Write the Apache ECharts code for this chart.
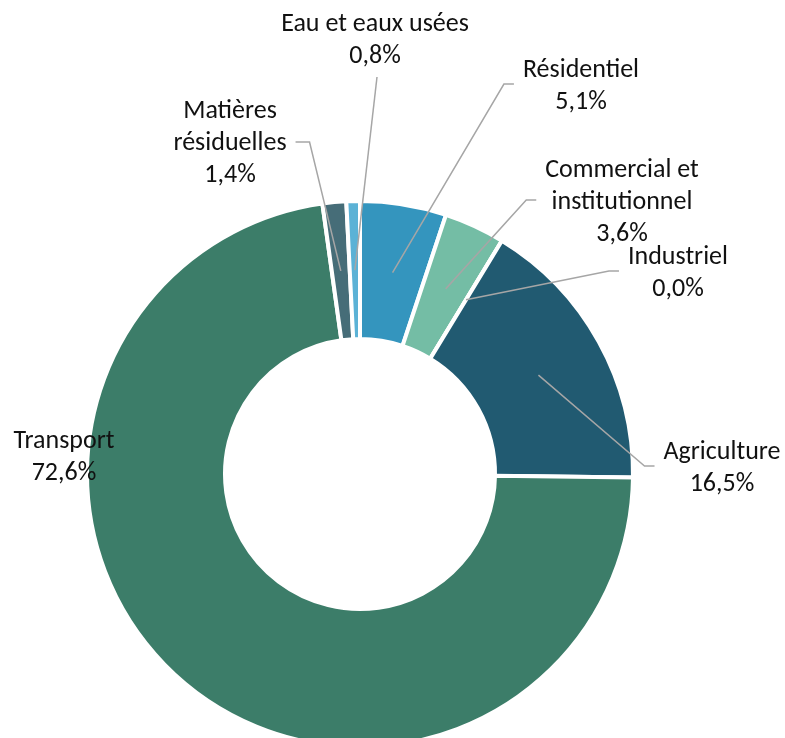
<!DOCTYPE html>
<html><head><meta charset="utf-8">
<script src="https://cdn.jsdelivr.net/npm/echarts@6/dist/echarts.min.js"></script>
<style>html,body{margin:0;padding:0;background:#fff}#c{width:785px;height:738px}</style>
</head><body><div id="c"></div>
<script>
// ---- data ----
const categories = ['Résidentiel', 'Commercial et institutionnel', 'Industriel', 'Agriculture', 'Transport', 'Matières résiduelles', 'Eau et eaux usées'];
const values = [5.1, 3.6, 0.0, 16.5, 72.6, 1.4, 0.8];
const colors = ['#3495BE', '#74BDA5', '#1F4E5F', '#215A71', '#3C7D69', '#466D78', '#5BB2D6'];

// ---- layout ----
const CX = 360, CY = 474, R_IN = 137, R_OUT = 271, R_MID = 204;
const displayNames = {
  'Commercial et institutionnel': 'Commercial et\ninstitutionnel',
  'Matières résiduelles': 'Matières\nrésiduelles'
};
const labelPos = {
  'Résidentiel': [581, 86],
  'Commercial et institutionnel': [622, 202],
  'Industriel': [678, 273],
  'Agriculture': [722, 468],
  'Transport': [64, 457],
  'Matières résiduelles': [230, 143],
  'Eau et eaux usées': [375, 40]
};

const total = values.reduce((a, b) => a + b, 0);
function midAngle(i) {
  let s = 0;
  for (let k = 0; k < i; k++) s += values[k];
  return ((s + values[i] / 2) / total) * 2 * Math.PI;
}
function fmt(v) { return v.toFixed(1).replace('.', ',') + '%'; }

const chart = echarts.init(document.getElementById('c'), null, { renderer: 'canvas' });

const mainData = categories.map((c, i) => ({ name: c, value: values[i], itemStyle: { color: colors[i] } }));
const labelData = categories.map((c, i) => ({
  name: c, value: values[i],
  labelLine: { show: c !== 'Transport' }
}));

chart.setOption({
  animation: false,
  series: [
    {
      type: 'pie',
      center: [CX, CY],
      radius: [R_IN - 2, R_OUT + 2],
      startAngle: 90,
      clockwise: true,
      avoidLabelOverlap: false,
      silent: true,
      label: { show: false },
      labelLine: { show: false },
      itemStyle: { borderColor: '#fff', borderWidth: 4 },
      data: mainData
    },
    {
      type: 'pie',
      center: [CX, CY],
      radius: [0, R_MID],
      startAngle: 90,
      clockwise: true,
      avoidLabelOverlap: false,
      silent: true,
      z: 3,
      itemStyle: { color: 'rgba(0,0,0,0)' },
      label: {
        show: true,
        position: 'outside',
        fontFamily: 'Carlito, Lato, sans-serif',
        fontSize: 26,
        lineHeight: 32,
        color: '#111',
        formatter: p => (displayNames[p.name] || p.name) + '\n' + fmt(p.value)
      },
      labelLine: { show: true, length: 10, length2: 10, lineStyle: { color: '#A6A6A6', width: 1.5 } },
      labelLayout: function (params) {
        const i = params.dataIndex;
        const name = categories[i];
        const pos = labelPos[name];
        const a = midAngle(i);
        const sx = CX + R_MID * Math.sin(a), sy = CY - R_MID * Math.cos(a);
        const w = params.labelRect.width, h = params.labelRect.height;
        let pts;
        if (name === 'Eau et eaux usées') {
          const ex = pos[0] + 2, ey = pos[1] + h / 2 + 5;
          pts = [[sx, sy], [ex, ey], [ex, ey]];
        } else if (pos[0] > sx) {
          const ex = pos[0] - w / 2 - 9;
          pts = [[sx, sy], [ex - 10, pos[1] - 2], [ex, pos[1] - 2]];
        } else {
          const ex = pos[0] + w / 2 + 9;
          pts = [[sx, sy], [ex + 14, pos[1] - 1], [ex, pos[1] - 1]];
        }
        return { x: pos[0], y: pos[1], align: 'center', verticalAlign: 'middle', labelLinePoints: pts };
      },
      data: labelData
    }
  ]
});
</script>
</body></html>
